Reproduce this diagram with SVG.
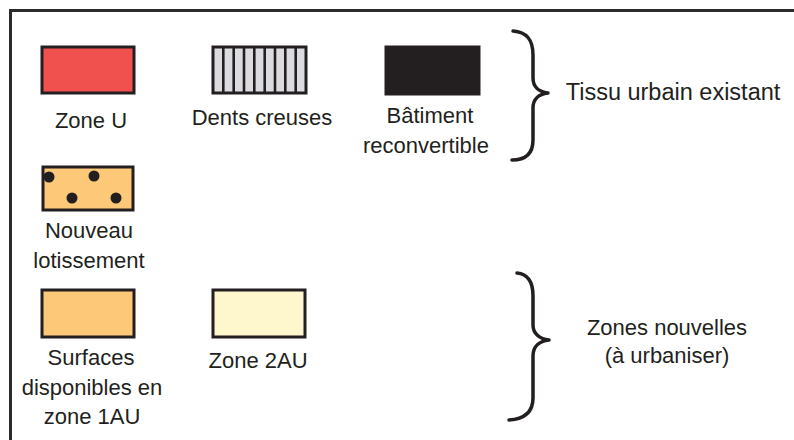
<svg xmlns="http://www.w3.org/2000/svg" width="794" height="440" viewBox="0 0 794 440">
  <style>
    .swatch { stroke: #231f20; stroke-width: 3; }
    .lbl { font-family: "Liberation Sans", Arial, sans-serif; font-size: 22px; fill: #231f20; text-anchor: middle; }
    .brace { fill: none; stroke: #231f20; stroke-width: 3.5; stroke-linecap: round; stroke-linejoin: round; }
    .stripe { stroke: #231f20; stroke-width: 2.6; }
  </style>
  <rect width="794" height="440" fill="#ffffff"/>

  <!-- frame (top and left edges visible) -->
  <rect id="frame" x="10.5" y="10.5" width="800" height="450" fill="none" stroke="#2b2b2b" stroke-width="3"/>

  <g id="zone-u">
    <rect class="swatch" x="42" y="47" width="92" height="46" fill="#f0514f"/>
    <text class="lbl" x="91" y="128">Zone U</text>
  </g>

  <g id="dents-creuses">
    <rect class="swatch" x="213" y="47" width="93" height="46" fill="#dcdce0"/>
    <g>
      <line class="stripe" x1="223.3" y1="47" x2="223.3" y2="93"/>
      <line class="stripe" x1="233.7" y1="47" x2="233.7" y2="93"/>
      <line class="stripe" x1="244" y1="47" x2="244" y2="93"/>
      <line class="stripe" x1="254.3" y1="47" x2="254.3" y2="93"/>
      <line class="stripe" x1="264.7" y1="47" x2="264.7" y2="93"/>
      <line class="stripe" x1="275" y1="47" x2="275" y2="93"/>
      <line class="stripe" x1="285.3" y1="47" x2="285.3" y2="93"/>
      <line class="stripe" x1="295.7" y1="47" x2="295.7" y2="93"/>
    </g>
    <text class="lbl" x="262" y="125">Dents creuses</text>
  </g>

  <g id="batiment">
    <rect class="swatch" x="386" y="47" width="93" height="47" fill="#231f20"/>
    <text class="lbl" x="430" y="123">Bâtiment</text>
    <text class="lbl" x="426" y="153">reconvertible</text>
  </g>

  <g id="nouveau-lotissement">
    <rect class="swatch" x="43" y="167" width="90" height="43" fill="#fdc978"/>
    <circle cx="49" cy="177" r="5.5" fill="#231f20"/>
    <circle cx="94" cy="176" r="5.5" fill="#231f20"/>
    <circle cx="72" cy="198" r="5.5" fill="#231f20"/>
    <circle cx="116" cy="198" r="5.5" fill="#231f20"/>
    <text class="lbl" x="89" y="238">Nouveau</text>
    <text class="lbl" x="89" y="268">lotissement</text>
  </g>

  <g id="surfaces-1au">
    <rect class="swatch" x="42" y="290" width="92" height="47" fill="#fdc978"/>
    <text class="lbl" x="91" y="365">Surfaces</text>
    <text class="lbl" x="92" y="395">disponibles en</text>
    <text class="lbl" x="92" y="424">zone 1AU</text>
  </g>

  <g id="zone-2au">
    <rect class="swatch" x="213" y="290" width="92" height="47" fill="#fef6cd"/>
    <text class="lbl" x="258" y="368">Zone 2AU</text>
  </g>

  <g id="tissu-urbain">
    <path class="brace" d="M513,31 C527,32 533,40 533,55 L533,78 C533,87 539,92 548,93 C539,94 533,99 533,108 L533,140 C533,153 526,160 512,160"/>
    <text class="lbl" x="673" y="100" style="font-size:23.5px">Tissu urbain existant</text>
  </g>

  <g id="zones-nouvelles">
    <path class="brace" d="M517,273 C528,274 533,282 533,296 L533,325 C533,334 540,339 549,340 C540,341 533,346 533,356 L533,398 C533,412 525,419 509,420"/>
    <text class="lbl" x="667" y="335">Zones nouvelles</text>
    <text class="lbl" x="667" y="363">(à urbaniser)</text>
  </g>
</svg>
